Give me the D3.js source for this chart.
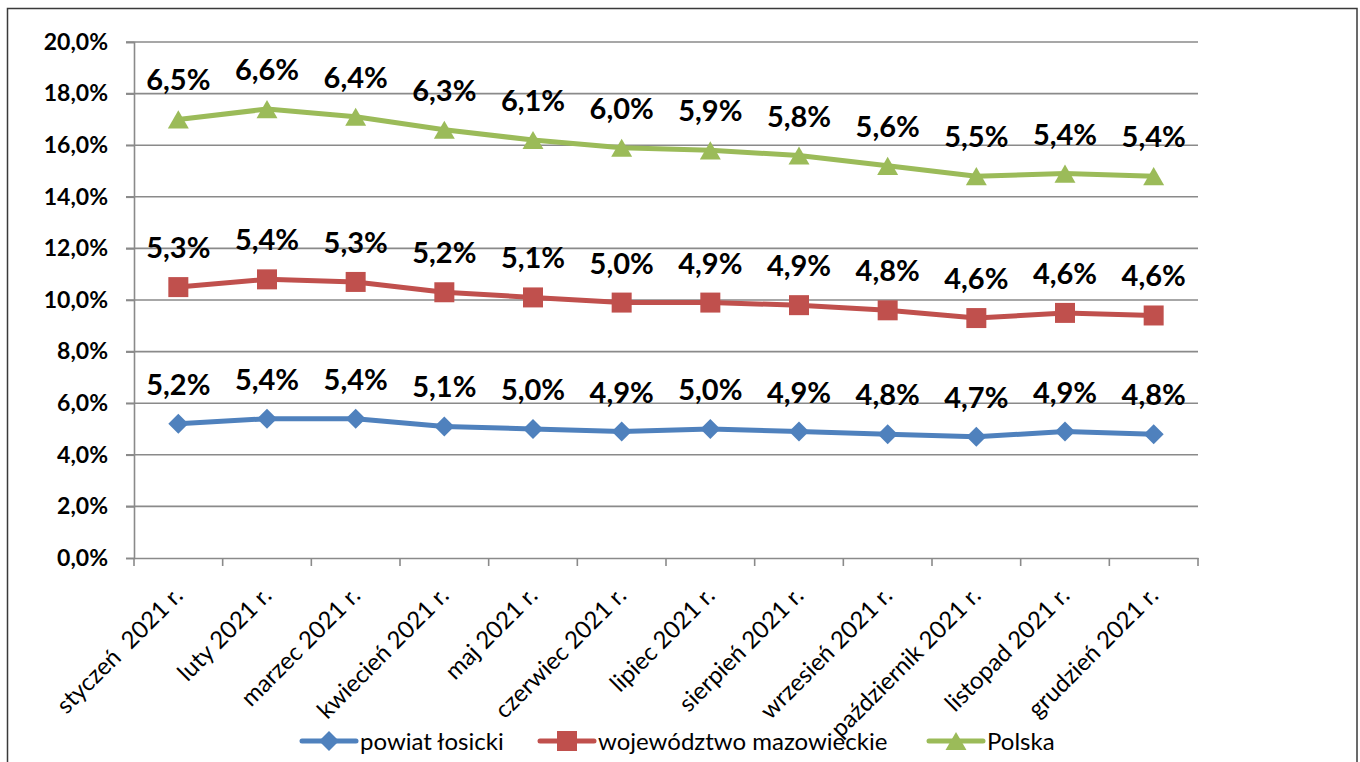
<!DOCTYPE html>
<html><head><meta charset="utf-8">
<script src="https://cdn.jsdelivr.net/npm/d3@7"></script>
<style>
html,body{margin:0;padding:0;background:#fff;}
svg{display:block;}
</style></head>
<body>
<svg id="chart" width="1360" height="762"></svg>
<script>
const categories = ["styczeń\u00a0\u00a02021 r.","luty 2021 r.","marzec 2021 r.","kwiecień 2021 r.","maj 2021 r.","czerwiec 2021 r.","lipiec 2021 r.","sierpień 2021 r.","wrzesień 2021 r.","październik 2021 r.","listopad 2021 r.","grudzień 2021 r."];
const seriesNames = ["powiat łosicki","województwo mazowieckie","Polska"];
const powiat = [5.2,5.4,5.4,5.1,5.0,4.9,5.0,4.9,4.8,4.7,4.9,4.8];
const wojewodztwo = [5.3,5.4,5.3,5.2,5.1,5.0,4.9,4.9,4.8,4.6,4.6,4.6];
const polska = [6.5,6.6,6.4,6.3,6.1,6.0,5.9,5.8,5.6,5.5,5.4,5.4];
const yTicks = [0,2,4,6,8,10,12,14,16,18,20];
const colors = ["#4F81BD","#C0504D","#9BBB59"];

(function(){
const svg = d3.select("#chart");
const font = "Lato, 'Open Sans', sans-serif";

svg.append("rect").attr("x",7.5).attr("y",8.5).attr("width",1349.5).attr("height",780)
  .attr("fill","none").attr("stroke","#3a3a3a").attr("stroke-width",1.5);

const pL = 134, pR = 1198, pT = 42, pB = 558;
const x = d3.scaleBand().domain(categories).range([pL,pR]);
const y = d3.scaleLinear().domain([0,20]).range([pB,pT]);
const cx = c => x(c) + x.bandwidth()/2;

const rows = categories.map((c,i)=>({c, s0:powiat[i], s1:wojewodztwo[i], s2:polska[i]}));
const stacked = d3.stack().keys(["s0","s1","s2"])(rows);
const raw = [powiat, wojewodztwo, polska];
const gridC = "#8a8a8a";

svg.append("g").selectAll("line").data(yTicks.filter(t=>t>0)).join("line")
  .attr("x1",pL-8).attr("x2",pR).attr("y1",d=>y(d)).attr("y2",d=>y(d))
  .attr("stroke",gridC).attr("stroke-width",1.6);

const yAxis = svg.append("g").attr("transform",`translate(${pL},0)`)
  .call(d3.axisLeft(y).tickValues(yTicks).tickSize(8).tickPadding(18)
    .tickFormat(d=>d3.format(".1f")(d).replace(".",",")+"%"));
yAxis.select(".domain").attr("stroke",gridC).attr("stroke-width",1.6);
yAxis.selectAll(".tick line").attr("stroke",gridC).attr("stroke-width",1.6);
yAxis.selectAll("text").attr("font-family",font).attr("font-weight","bold")
  .attr("font-size",23).attr("fill","#000");

const xAxis = svg.append("g").attr("transform",`translate(0,${pB})`)
  .call(d3.axisBottom(x).tickSize(0).tickFormat(""));
xAxis.select(".domain").attr("stroke",gridC).attr("stroke-width",1.6);
const tickPos = categories.map(c=>x(c)).concat([pR]);
svg.append("g").selectAll("line").data(tickPos).join("line")
  .attr("x1",d=>d).attr("x2",d=>d).attr("y1",pB).attr("y2",pB+8)
  .attr("stroke",gridC).attr("stroke-width",1.6);

svg.append("g").selectAll("text").data(categories).join("text")
  .attr("transform",d=>`translate(${cx(d)+6},${pB+39}) rotate(-45)`)
  .attr("text-anchor","end")
  .attr("font-family",font).attr("font-size",24).attr("fill","#000")
  .text(d=>d);

const line = d3.line().x(d=>cx(d.data.c)).y(d=>y(d[1]));
stacked.forEach((s,i)=>{
  svg.append("path").datum(s).attr("d",line).attr("fill","none")
    .attr("stroke",colors[i]).attr("stroke-width",5).attr("stroke-linejoin","round");
});

const symbols = [d3.symbolSquare, d3.symbolSquare, d3.symbolTriangle];
const symSize = [200, 400, 190];
const symRot = [45, 0, 0];
const symDy = [0, 0, 3];
stacked.forEach((s,i)=>{
  svg.append("g").selectAll("path").data(s).join("path")
    .attr("transform",d=>`translate(${cx(d.data.c)},${y(d[1])+symDy[i]}) rotate(${symRot[i]})`)
    .attr("d",d3.symbol().type(symbols[i]).size(symSize[i]))
    .attr("fill",colors[i]);
  svg.append("g").selectAll("text").data(s).join("text")
    .attr("x",d=>cx(d.data.c)).attr("y",d=>y(d[1])-29)
    .attr("text-anchor","middle").attr("font-family",font).attr("font-weight","bold")
    .attr("font-size",29).attr("fill","#000")
    .text((d,j)=>d3.format(".1f")(raw[i][j]).replace(".",",")+"%");
});

const legendX = [302, 540, 929];
const lg = svg.append("g");
seriesNames.forEach((n,i)=>{
  const g = lg.append("g").attr("transform",`translate(${legendX[i]},741)`);
  g.append("line").attr("x1",0).attr("x2",54).attr("y1",0).attr("y2",0)
    .attr("stroke",colors[i]).attr("stroke-width",5).attr("stroke-linecap","round");
  g.append("path").attr("transform",`translate(27,${symDy[i]}) rotate(${symRot[i]})`)
    .attr("d",d3.symbol().type(symbols[i]).size(symSize[i])).attr("fill",colors[i]);
  g.append("text").attr("x",58).attr("y",0).attr("dy","0.36em")
    .attr("font-family",font).attr("font-size",24).attr("fill","#000").text(n);
});
})();
</script>
</body></html>
